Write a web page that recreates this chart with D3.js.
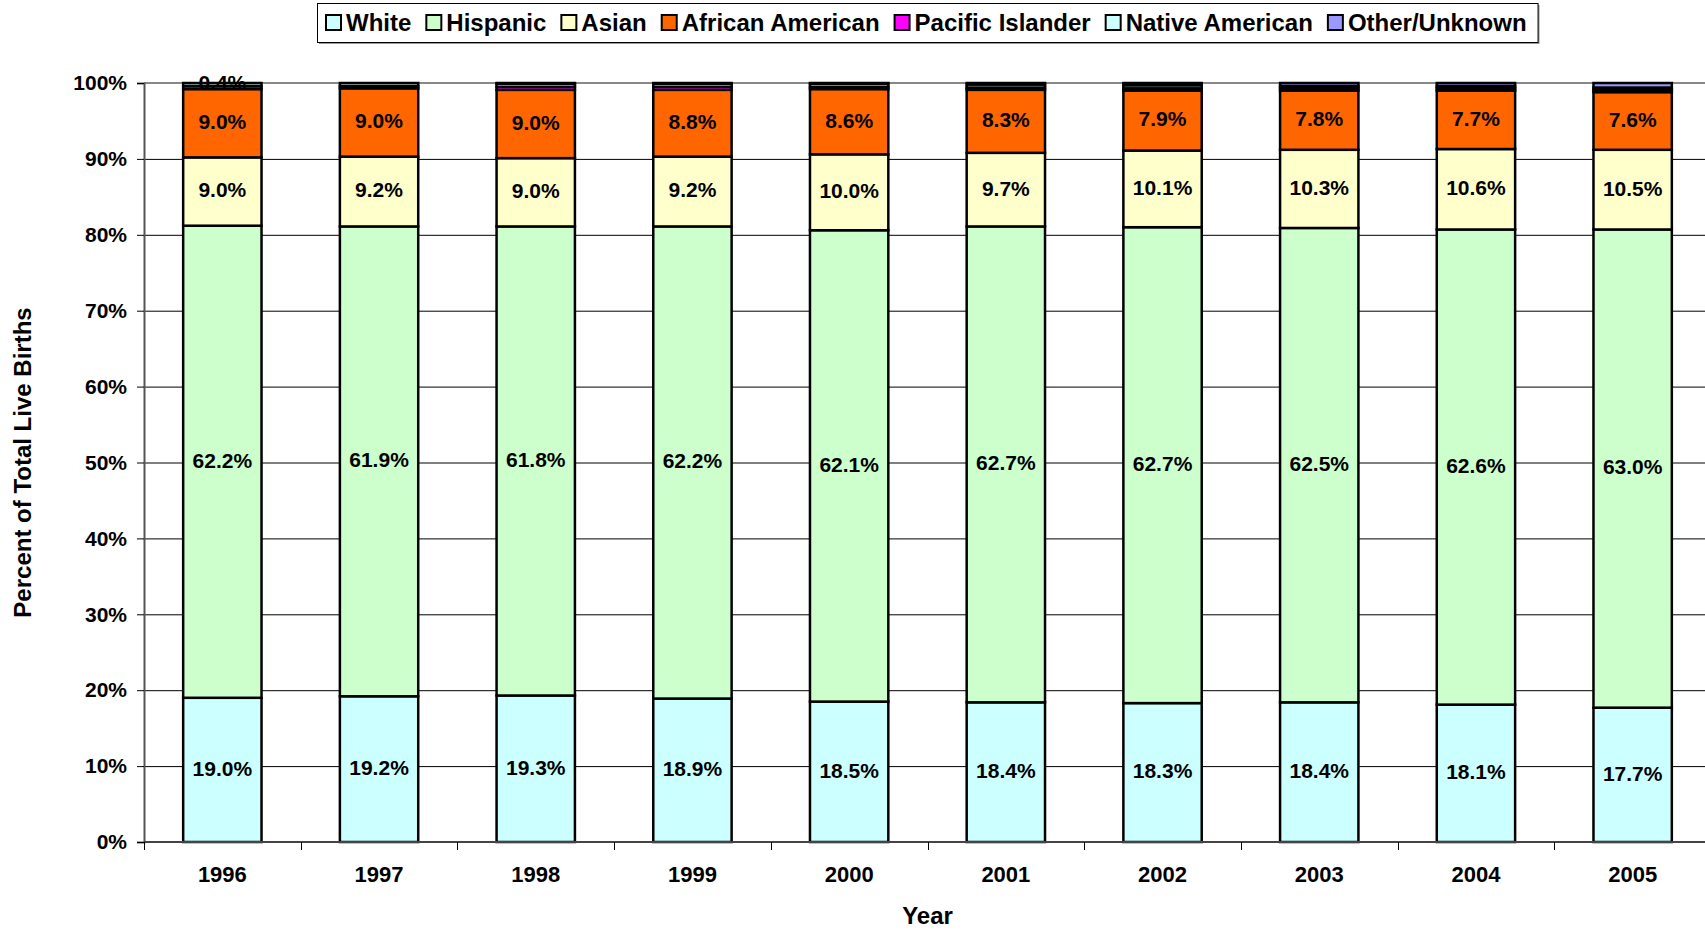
<!DOCTYPE html>
<html lang="en">
<head>
<meta charset="UTF-8">
<title>Live Births by Race/Ethnicity</title>
<script src="https://d3js.org/d3.v7.min.js"></script>
<style>
  body { margin: 0; background: #fff; }
  svg { display: block; font-family: "Liberation Sans", Arial, sans-serif; font-weight: bold; }
</style>
</head>
<body>
<script>
// values (percent of total live births)
var years = ["1996", "1997", "1998", "1999", "2000", "2001", "2002", "2003", "2004", "2005"];
var white           = [19.0, 19.2, 19.3, 18.9, 18.5, 18.4, 18.3, 18.4, 18.1, 17.7];
var hispanic        = [62.2, 61.9, 61.8, 62.2, 62.1, 62.7, 62.7, 62.5, 62.6, 63.0];
var asian           = [9.0, 9.2, 9.0, 9.2, 10.0, 9.7, 10.1, 10.3, 10.6, 10.5];
var africanAmerican = [9.0, 9.0, 9.0, 8.8, 8.6, 8.3, 7.9, 7.8, 7.7, 7.6];
var pacificIslander = [0.4, 0.3, 0.4, 0.4, 0.3, 0.3, 0.3, 0.3, 0.3, 0.3];
var nativeAmerican  = [0.4, 0.4, 0.4, 0.4, 0.4, 0.4, 0.4, 0.3, 0.3, 0.3];
var otherUnknown    = [0.0, 0.0, 0.1, 0.1, 0.1, 0.2, 0.3, 0.4, 0.4, 0.6];

var seriesNames = ["White", "Hispanic", "Asian", "African American", "Pacific Islander", "Native American", "Other/Unknown"];
var seriesValues = [white, hispanic, asian, africanAmerican, pacificIslander, nativeAmerican, otherUnknown];
var colors = ["#CCFFFF", "#CCFFCC", "#FFFFCC", "#FF6600", "#FF00FF", "#CCFFFF", "#9999FF"];
var yTicks = [0, 10, 20, 30, 40, 50, 60, 70, 80, 90, 100];

var w = 1705, h = 930;
var x0 = 144, x1 = 1711, yTop = 83, yBottom = 842;

// build rows for d3.stack
var rows = years.map(function(y, i) {
    var r = { year: y };
    seriesNames.forEach(function(s, j) { r[s] = seriesValues[j][i]; });
    return r;
});
var stacked = d3.stack().keys(seriesNames)(rows);

var svg = d3.select("body").append("svg")
    .attr("width", w)
    .attr("height", h);

var x = d3.scaleBand()
    .domain(years)
    .range([x0, x1])
    .paddingInner(0.5)
    .paddingOuter(0.25);

var y = d3.scaleLinear()
    .domain([0, 100])
    .range([yBottom, yTop]);

// gridlines
svg.append("g")
    .attr("transform", "translate(" + x0 + ",0)")
    .call(d3.axisLeft(y).tickValues(yTicks.slice(1, -1)).tickSize(-(x1 - x0)).tickFormat(""))
    .call(function(g) { g.select(".domain").remove(); })
    .selectAll("line")
    .attr("stroke", "#000")
    .attr("stroke-width", 1);

// plot top border
svg.append("line")
    .attr("x1", x0).attr("x2", w)
    .attr("y1", y(100)).attr("y2", y(100))
    .attr("stroke", "#888")
    .attr("stroke-width", 2);

// bars
var layer = svg.selectAll("g.layer")
    .data(stacked)
    .enter().append("g")
    .attr("class", "layer")
    .attr("fill", function(d, i) { return colors[i]; });

layer.selectAll("rect")
    .data(function(d) { return d.filter(function(p) { return p[1] - p[0] > 0; }); })
    .enter().append("rect")
    .attr("x", function(d) { return x(d.data.year); })
    .attr("y", function(d) { return y(d[1]); })
    .attr("width", x.bandwidth())
    .attr("height", function(d) { return y(d[0]) - y(d[1]); })
    .attr("stroke", "#000")
    .attr("stroke-width", 2.5);

// data labels: the four big series, plus the one small label visible on 1996
var labels = [];
stacked.forEach(function(s, i) {
    s.forEach(function(p, k) {
        var v = p[1] - p[0];
        if (i < 4 || (s.key === "Native American" && k === 0)) {
            labels.push({ year: p.data.year, mid: (p[0] + p[1]) / 2, text: v.toFixed(1) + "%" });
        }
    });
});

svg.append("g").selectAll("text")
    .data(labels)
    .enter().append("text")
    .attr("x", function(d) { return x(d.year) + x.bandwidth() / 2; })
    .attr("y", function(d) { return y(d.mid); })
    .attr("dy", "0.28em")
    .attr("text-anchor", "middle")
    .attr("font-size", 21)
    .attr("fill", "#000")
    .text(function(d) { return d.text; });

// y axis
var yAxis = svg.append("g")
    .attr("transform", "translate(" + x0 + ",0)")
    .call(d3.axisLeft(y).tickValues(yTicks).tickSize(7).tickPadding(10).tickFormat(function(d) { return d + "%"; }));
yAxis.select(".domain").attr("stroke", "#555").attr("stroke-width", 2);
yAxis.selectAll(".tick line").attr("stroke", "#000");
yAxis.selectAll("text")
    .attr("font-size", 21)
    .attr("font-family", "Liberation Sans, Arial, sans-serif")
    .attr("font-weight", "bold")
    .attr("fill", "#000");

// x axis line and ticks between categories
var step = x.step();
svg.append("line")
    .attr("x1", x0).attr("x2", w)
    .attr("y1", yBottom).attr("y2", yBottom)
    .attr("stroke", "#444")
    .attr("stroke-width", 2);

svg.append("g").selectAll("line")
    .data(years)
    .enter().append("line")
    .attr("x1", function(d) { return Math.round(x(d) + x.bandwidth() / 2 - step / 2) + 0.5; })
    .attr("x2", function(d) { return Math.round(x(d) + x.bandwidth() / 2 - step / 2) + 0.5; })
    .attr("y1", yBottom)
    .attr("y2", yBottom + 8)
    .attr("stroke", "#000");

var xAxis = svg.append("g")
    .attr("transform", "translate(0," + yBottom + ")")
    .call(d3.axisBottom(x).tickSize(0).tickPadding(24));
xAxis.select(".domain").remove();
xAxis.selectAll("text")
    .attr("font-size", 22)
    .attr("font-family", "Liberation Sans, Arial, sans-serif")
    .attr("font-weight", "bold")
    .attr("fill", "#000");

// axis titles
svg.append("text")
    .attr("x", (x0 + x1) / 2)
    .attr("y", 924)
    .attr("text-anchor", "middle")
    .attr("font-size", 24)
    .text("Year");

svg.append("text")
    .attr("transform", "translate(22," + (yTop + yBottom) / 2 + ") rotate(-90)")
    .attr("text-anchor", "middle")
    .attr("dy", "0.36em")
    .attr("font-size", 24)
    .text("Percent of Total Live Births");

// legend
var legend = svg.append("g");
var items = legend.selectAll("g.item")
    .data(seriesNames)
    .enter().append("g")
    .attr("class", "item");
items.append("rect")
    .attr("width", 15).attr("height", 15)
    .attr("y", 15)
    .attr("fill", function(d, i) { return colors[i]; })
    .attr("stroke", "#000")
    .attr("stroke-width", 2);
items.append("text")
    .attr("x", 20)
    .attr("y", 22.5)
    .attr("dy", "0.36em")
    .attr("font-size", 24)
    .text(function(d) { return d; });

var gap = 15;
var pos = 0;
items.each(function() {
    var g = d3.select(this);
    g.attr("transform", "translate(" + pos + ",0)");
    pos += 20 + g.select("text").node().getComputedTextLength() + gap;
});
var legendInner = pos - gap;
var legendW = legendInner + 8 + 12;
var legendX = Math.round((x0 + x1) / 2 - legendW / 2);

legend.insert("rect", ":first-child")
    .attr("x", legendX + 2).attr("y", 5)
    .attr("width", legendW).attr("height", 39)
    .attr("fill", "#999");
legend.insert("rect", "g.item")
    .attr("x", legendX + 0.5).attr("y", 3.5)
    .attr("width", legendW).attr("height", 39)
    .attr("fill", "#fff")
    .attr("stroke", "#000");
items.attr("transform", function() {
    var t = d3.select(this).attr("transform");
    var px = +t.match(/translate\(([-\d.]+)/)[1];
    return "translate(" + (legendX + 9 + px) + ",0)";
});
</script>
</body>
</html>
